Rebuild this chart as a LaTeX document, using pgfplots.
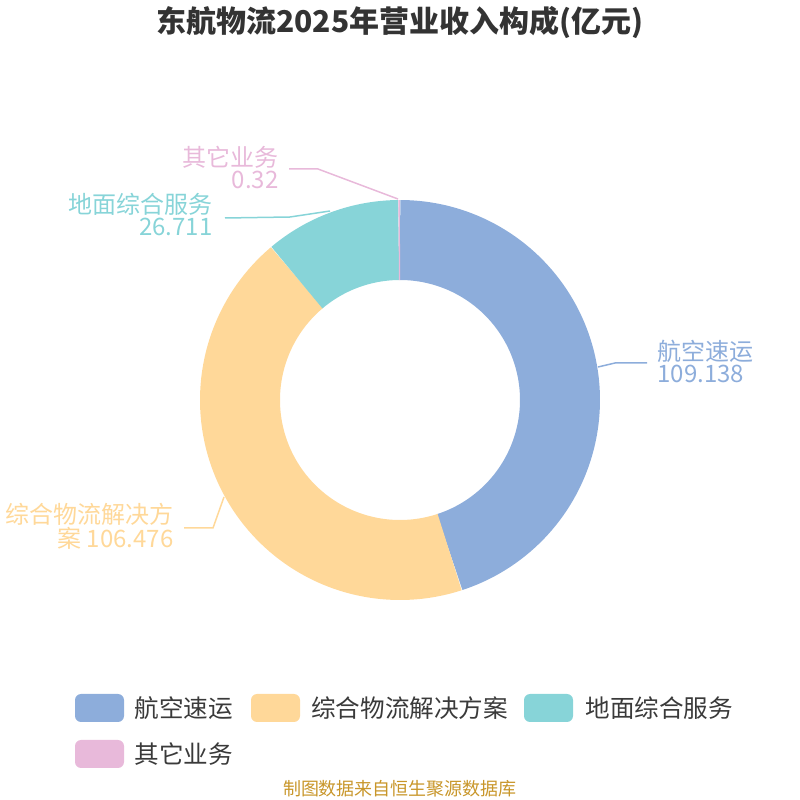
\documentclass[border=0pt]{standalone}
\usepackage{pgfplots}
\usepackage{pgfplotstable}
\pgfplotsset{compat=1.18}
\usepackage{fontspec}
\setmainfont{Noto Sans CJK SC}

\definecolor{cA}{HTML}{8DADDB}
\definecolor{cB}{HTML}{FFD899}
\definecolor{cC}{HTML}{87D4D8}
\definecolor{cD}{HTML}{E8B9DA}
\definecolor{ctitle}{HTML}{333333}
\definecolor{clegend}{HTML}{3A3A3A}
\definecolor{cfoot}{HTML}{C8962A}

% revenue by segment, 100 million yuan
\pgfplotstableread{
name value
A 109.138
B 106.476
C 26.711
D 0.32
}\revtable

\begin{document}%
\pgfplotstablegetelem{0}{value}\of\revtable\let\vA\pgfplotsretval%
\pgfplotstablegetelem{1}{value}\of\revtable\let\vB\pgfplotsretval%
\pgfplotstablegetelem{2}{value}\of\revtable\let\vC\pgfplotsretval%
\pgfplotstablegetelem{3}{value}\of\revtable\let\vD\pgfplotsretval%
\pgfmathsetmacro\total{\vA+\vB+\vC+\vD}%
% clockwise from the top
\pgfmathsetmacro\aA{90}%
\pgfmathsetmacro\aB{\aA-\vA/\total*360}%
\pgfmathsetmacro\aC{\aB-\vB/\total*360}%
\pgfmathsetmacro\aD{\aC-\vC/\total*360}%
\pgfmathsetmacro\aE{\aD-\vD/\total*360}%
\begin{tikzpicture}
\begin{axis}[
  x=0.5pt, y=0.5pt,
  xmin=0, xmax=800, ymin=0, ymax=800,
  scale only axis,
  hide axis,
  clip=false,
  trig format plots=deg,
]
\path (axis cs:0,0) rectangle (axis cs:800,800);

% ring segments: mid radius 160, ring width 80
\addplot[draw=cA, line width=40pt, domain=\aB:\aA, samples=150] ({400+160*cos(x)},{400+160*sin(x)});
\addplot[draw=cB, line width=40pt, domain=\aC:\aB, samples=150] ({400+160*cos(x)},{400+160*sin(x)});
\addplot[draw=cC, line width=40pt, domain=\aD:\aC, samples=60] ({400+160*cos(x)},{400+160*sin(x)});
\addplot[draw=cD, line width=40pt, domain=\aE:\aD, samples=4] ({400+160*cos(x)},{400+160*sin(x)});

% leader lines
\addplot[cA, line width=0.75pt] coordinates {(598,433) (615,437) (647,437)};
\addplot[cB, line width=0.75pt] coordinates {(224,303) (213,272) (184,272)};
\addplot[cC, line width=0.75pt] coordinates {(330,589) (290,583) (225,582)};
\addplot[cD, line width=0.75pt] coordinates {(398,601) (318,631) (289,631)};

% labels
\node[anchor=west, align=left, text=cA, font=\fontsize{12}{11}\selectfont, inner sep=0pt] at (axis cs:657,439) {航空速运\\109.138};
\node[anchor=east, align=right, text=cB, font=\fontsize{12}{11}\selectfont, inner sep=0pt] at (axis cs:174,274) {综合物流解决方\\案 106.476};
\node[anchor=east, align=right, text=cC, font=\fontsize{12}{11}\selectfont, inner sep=0pt] at (axis cs:213,585) {地面综合服务\\26.711};
\node[anchor=east, align=right, text=cD, font=\fontsize{12}{11}\selectfont, inner sep=0pt] at (axis cs:279,633) {其它业务\\0.32};

% title
\node[text=ctitle, font=\fontsize{15}{18}\selectfont\bfseries, inner sep=0pt] at (axis cs:400,778) {东航物流2025年营业收入构成(亿元)};

% legend
\fill[cA, rounded corners=3pt] (axis cs:75,78) rectangle (axis cs:124,106);
\node[anchor=west, text=clegend, font=\fontsize{12.3}{14}\selectfont, inner sep=0pt] at (axis cs:134,92) {航空速运};
\fill[cB, rounded corners=3pt] (axis cs:251,78) rectangle (axis cs:300,106);
\node[anchor=west, text=clegend, font=\fontsize{12.3}{14}\selectfont, inner sep=0pt] at (axis cs:311,92) {综合物流解决方案};
\fill[cC, rounded corners=3pt] (axis cs:524,78) rectangle (axis cs:573,106);
\node[anchor=west, text=clegend, font=\fontsize{12.3}{14}\selectfont, inner sep=0pt] at (axis cs:585,92) {地面综合服务};
\fill[cD, rounded corners=3pt] (axis cs:75,32) rectangle (axis cs:124,60);
\node[anchor=west, text=clegend, font=\fontsize{12.3}{14}\selectfont, inner sep=0pt] at (axis cs:134,46) {其它业务};

% source
\node[text=cfoot, font=\fontsize{9}{10}\selectfont, inner sep=0pt] at (axis cs:400,11) {制图数据来自恒生聚源数据库};
\end{axis}
\end{tikzpicture}%
\end{document}
